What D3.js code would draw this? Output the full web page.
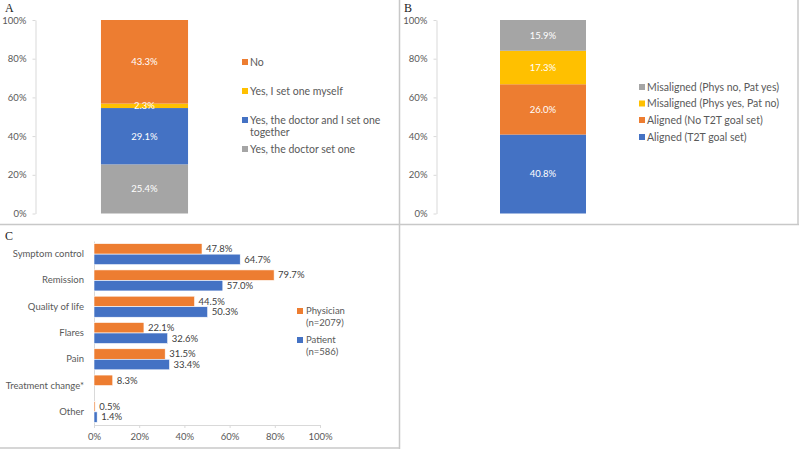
<!DOCTYPE html>
<html>
<head>
<meta charset="utf-8">
<script src="https://cdn.jsdelivr.net/npm/d3@7"></script>
<style>
  html, body { margin: 0; padding: 0; background: #fff; }
  svg { display: block; font-family: Lato, "Open Sans", sans-serif; }
  .axis text { fill: #595959; font-size: 9.5px; font-family: Lato, "Open Sans", sans-serif; }
  .axis path, .axis line { stroke: #d9d9d9; }
</style>
</head>
<body>
<svg id="chart" width="799" height="449"></svg>
<script>
// ---- Data ----
// Panel A (bottom to top)
const aCategories = ["Yes, the doctor set one", "Yes, the doctor and I set one together", "Yes, I set one myself", "No"];
const aValues = [25.4, 29.1, 2.3, 43.3];
const aColors = ["#A5A5A5", "#4472C4", "#FFC000", "#ED7D31"];
// Panel B (bottom to top)
const bCategories = ["Aligned (T2T goal set)", "Aligned (No T2T goal set)", "Misaligned (Phys yes, Pat no)", "Misaligned (Phys no, Pat yes)"];
const bValues = [40.8, 26.0, 17.3, 15.9];
const bColors = ["#4472C4", "#ED7D31", "#FFC000", "#A5A5A5"];
// Panel C
const cCategories = ["Symptom control", "Remission", "Quality of life", "Flares", "Pain", "Treatment change*", "Other"];
const cSeries = ["Physician", "Patient"];
const cSeriesLegend = [["Physician", "(n=2079)"], ["Patient", "(n=586)"]];
const cPhysician = [47.8, 79.7, 44.5, 22.1, 31.5, 8.3, 0.5];
const cPatient = [64.7, 57.0, 50.3, 32.6, 33.4, null, 1.4];
const cColors = ["#ED7D31", "#4472C4"];
const pctTicks = [0, 0.2, 0.4, 0.6, 0.8, 1.0];

const svg = d3.select("#chart");
const fmtPct = d3.format(".0%");

// ---- Panel borders ----
const border = svg.append("g").attr("stroke", "#c8c8c8").attr("stroke-width", 1.5);
border.append("line").attr("x1", 399.5).attr("x2", 399.5).attr("y1", 0).attr("y2", 449);
border.append("line").attr("x1", 0).attr("x2", 799).attr("y1", 224.5).attr("y2", 224.5);
border.append("line").attr("x1", 798).attr("x2", 798).attr("y1", 0).attr("y2", 225);
border.append("line").attr("x1", 0).attr("x2", 400).attr("y1", 448).attr("y2", 448);

// ---- Panel letters ----
[["A", 5, 12], ["B", 404, 12], ["C", 5, 240]].forEach(([t, x, y]) => {
  svg.append("text").attr("x", x).attr("y", y).text(t)
    .attr("font-family", "'Liberation Serif', 'DejaVu Serif', serif")
    .attr("font-size", 12).attr("fill", "#222");
});

// ---- Stacked single-bar panels ----
function stackedPanel(opts) {
  const { axisX, rangeX, pad, cats, vals, colors, legendX, legendY, legendOrder } = opts;
  const y = d3.scaleLinear().domain([0, 1]).range([213.5, 20]);
  const x = d3.scaleBand().domain(["bar"]).range(rangeX).padding(pad);
  const g = svg.append("g");
  g.append("g").attr("class", "axis").attr("transform", `translate(${axisX},0)`)
    .call(d3.axisLeft(y).tickValues(pctTicks).tickFormat(fmtPct).tickSize(3).tickSizeOuter(0).tickPadding(6));
  let cum = 0;
  const segs = vals.map((v, i) => { const s = { y0: cum, y1: cum + v / 100, v, c: colors[i], name: cats[i] }; cum += v / 100; return s; });
  g.selectAll("rect.seg").data(segs).join("rect")
    .attr("x", x("bar")).attr("width", x.bandwidth())
    .attr("y", d => y(Math.min(d.y1, 1))).attr("height", d => y(d.y0) - y(Math.min(d.y1, 1)))
    .attr("fill", d => d.c);
  g.selectAll("text.lab").data(segs).join("text")
    .attr("x", x("bar") + x.bandwidth() / 2)
    .attr("y", d => y((d.y0 + Math.min(d.y1, 1)) / 2)).attr("dy", "0.35em")
    .attr("text-anchor", "middle").attr("fill", "#fff").attr("font-size", 9.5)
    .text(d => d.v.toFixed(1) + "%");
  // legend
  legendOrder.forEach((idx, k) => {
    const lines = opts.legendLines ? opts.legendLines[idx] : [cats[idx]];
    const yy = legendY[k];
    g.append("rect").attr("x", legendX).attr("y", yy - 3).attr("width", 6).attr("height", 6).attr("fill", colors[idx]);
    lines.forEach((ln, j) => {
      g.append("text").attr("x", legendX + 8).attr("y", yy + j * 12).attr("dy", "0.35em")
        .attr("font-size", 10.5).attr("fill", "#595959").text(ln);
    });
  });
}

stackedPanel({
  axisX: 35.5, rangeX: [35, 254], pad: 0.431,
  cats: aCategories, vals: aValues, colors: aColors,
  legendX: 242, legendY: [62, 91, 120, 149], legendOrder: [3, 2, 1, 0],
  legendLines: [["Yes, the doctor set one"], ["Yes, the doctor and I set one", "together"], ["Yes, I set one myself"], ["No"]]
});

stackedPanel({
  axisX: 436.5, rangeX: [436, 650], pad: 0.4267,
  cats: bCategories, vals: bValues, colors: bColors,
  legendX: 639, legendY: [87, 103.5, 120, 137], legendOrder: [3, 2, 1, 0]
});

// ---- Panel C: grouped horizontal bars ----
(function () {
  const g = svg.append("g");
  const x = d3.scaleLinear().domain([0, 1]).range([94, 320]);
  const y = d3.scaleBand().domain(cCategories).range([241, 425]).paddingInner(0.2).paddingOuter(0.1);
  const ys = d3.scaleBand().domain(cSeries).range([0, y.bandwidth()]);
  g.append("g").attr("class", "axis").attr("transform", "translate(0,425)")
    .call(d3.axisBottom(x).tickValues(pctTicks).tickFormat(fmtPct).tickSize(3).tickSizeOuter(0).tickPadding(5));
  g.append("g").attr("class", "axis").attr("transform", "translate(94,0)")
    .call(d3.axisLeft(y).tickSize(0).tickSizeOuter(0).tickPadding(10));
  const rows = [];
  cCategories.forEach((c, i) => {
    [cPhysician[i], cPatient[i]].forEach((v, s) => {
      if (v != null) rows.push({ c, s: cSeries[s], v, color: cColors[s] });
    });
  });
  g.selectAll("rect.bar").data(rows).join("rect")
    .attr("x", x(0)).attr("y", d => y(d.c) + ys(d.s))
    .attr("width", d => x(d.v / 100) - x(0)).attr("height", ys.bandwidth())
    .attr("fill", d => d.color).attr("stroke", "#fff").attr("stroke-width", 0.6);
  g.selectAll("text.val").data(rows).join("text")
    .attr("x", d => x(d.v / 100) + 4).attr("y", d => y(d.c) + ys(d.s) + ys.bandwidth() / 2).attr("dy", "0.35em")
    .attr("font-size", 9.5).attr("fill", "#404040").text(d => d.v.toFixed(1) + "%");
  // legend
  const ly = [311, 340];
  cSeriesLegend.forEach((lines, k) => {
    g.append("rect").attr("x", 297).attr("y", ly[k] - 3).attr("width", 6).attr("height", 6).attr("fill", cColors[k]);
    lines.forEach((ln, j) => {
      g.append("text").attr("x", 306).attr("y", ly[k] + j * 12).attr("dy", "0.35em")
        .attr("font-size", 9.5).attr("fill", "#595959").text(ln);
    });
  });
})();
</script>
</body>
</html>
